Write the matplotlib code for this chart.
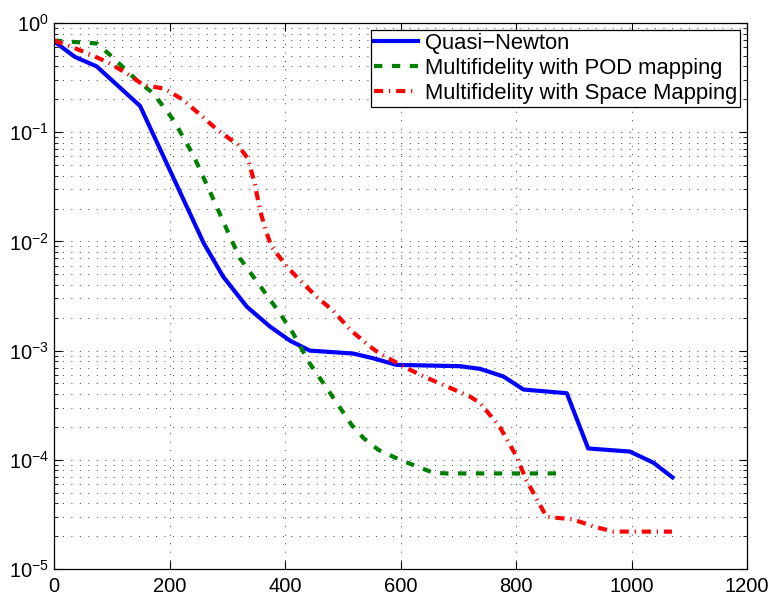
import numpy as np
import matplotlib
matplotlib.use("Agg")
import matplotlib.pyplot as plt
from matplotlib.ticker import LogLocator, NullFormatter

plt.rcParams['font.family'] = ['Liberation Sans', 'DejaVu Sans']
plt.rcParams['mathtext.fontset'] = 'custom'
plt.rcParams['mathtext.rm'] = 'Liberation Sans'

# Quasi-Newton
qn_x = [0, 36, 74, 149, 259, 293, 334, 374, 409, 443, 518, 553, 593, 703, 738,
        778, 813, 888, 925, 997, 1038, 1071]
qn_y = [0.68, 0.49, 0.40, 0.174, 9.7e-3, 4.75e-3, 2.52e-3, 1.66e-3, 1.23e-3, 1.0e-3,
        9.4e-4, 8.5e-4, 7.4e-4, 7.2e-4, 6.8e-4, 5.8e-4, 4.4e-4, 4.07e-4, 1.27e-4,
        1.19e-4, 9.4e-5, 6.9e-5]

# Multifidelity with POD mapping
pod_x = [0, 74, 97, 143, 172, 207, 241, 267, 305, 322, 357, 391, 414, 443, 478,
         515, 536, 562, 599, 657, 680, 885]
pod_y = [0.69, 0.65, 0.51, 0.30, 0.227, 0.129, 0.062, 0.031, 0.011, 7.0e-3, 3.9e-3,
         2.2e-3, 1.44e-3, 7.6e-4, 4.1e-4, 2.1e-4, 1.58e-4, 1.23e-4, 1.0e-4, 7.6e-5,
         7.5e-5, 7.5e-5]

# Multifidelity with Space Mapping
sm_x = [0, 22, 57, 92, 126, 155, 192, 224, 283, 318, 336, 348, 357, 368, 377, 403,
        426, 455, 484, 513, 547, 564, 611, 640, 680, 720, 738, 772, 801, 818, 853,
        899, 934, 969, 1070]
sm_y = [0.69, 0.63, 0.53, 0.44, 0.346, 0.27, 0.25, 0.197, 0.105, 0.077, 0.057, 0.033,
        0.019, 0.012, 8.9e-3, 5.9e-3, 4.4e-3, 3.1e-3, 2.3e-3, 1.55e-3, 1.09e-3, 9.4e-4,
        6.9e-4, 5.8e-4, 4.7e-4, 3.8e-4, 3.3e-4, 2.0e-4, 1.07e-4, 6.5e-5, 3.0e-5,
        2.85e-5, 2.45e-5, 2.2e-5, 2.2e-5]

labels = ['Quasi\u2212Newton', 'Multifidelity with POD mapping',
          'Multifidelity with Space Mapping']

fig = plt.figure(figsize=(7.74, 5.99), dpi=100)
ax = fig.add_axes([54 / 774, 30 / 599, 693 / 774, 546 / 599])

ax.semilogy(qn_x, qn_y, color=(0, 0, 1), lw=3, solid_joinstyle='round', label=labels[0])
ax.semilogy(pod_x, pod_y, color=(0, 0.5, 0), lw=3, linestyle=(0, (2, 2.3)), label=labels[1])
ax.semilogy(sm_x, sm_y, color=(1, 0, 0), lw=3, linestyle=(0, (2.2, 1.4, 0.3, 1.4)),
            label=labels[2])

ax.set_xlim(0, 1200)
ax.set_ylim(1e-5, 1)
ax.set_xticks(np.arange(0, 1201, 200))
ax.yaxis.set_major_locator(LogLocator(base=10, numticks=10))
ax.yaxis.set_minor_locator(LogLocator(base=10, subs=np.arange(2, 10), numticks=20))
ax.yaxis.set_minor_formatter(NullFormatter())

grid_kw = dict(color='0.25', lw=0.7, linestyle=(0, (1, 7.7)))
ax.grid(True, which='major', axis='both', **grid_kw)
ax.grid(True, which='minor', axis='y', **grid_kw)

ax.tick_params(which='both', direction='in', top=True, right=True, labelsize=14.5)
ax.tick_params(which='major', length=6, width=0.8)
ax.tick_params(which='minor', length=3, width=0.6)
ax.tick_params(axis='x', pad=6)
for s in ax.spines.values():
    s.set_linewidth(0.9)

leg = ax.legend(loc='upper right', fontsize=15.8, handlelength=2.0, labelspacing=0.18,
                borderaxespad=0.3, borderpad=0.15, handletextpad=0.3, fancybox=False,
                framealpha=1)
leg.get_frame().set_edgecolor('black')
leg.get_frame().set_linewidth(0.9)

fig.savefig('out.png', dpi=100)
